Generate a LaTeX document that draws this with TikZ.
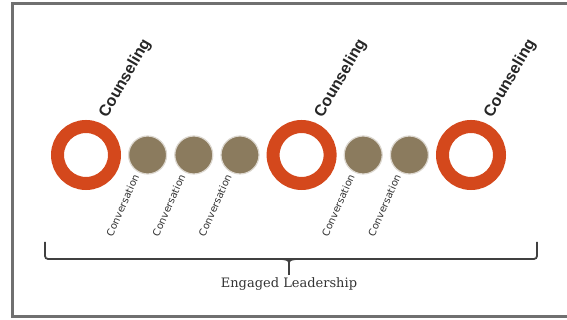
\documentclass[tikz,border=0pt]{standalone}
\usepackage{fontspec}
\newfontfamily\headfont{Liberation Sans}
\newfontfamily\smallfont{DejaVu Sans}
\newfontfamily\capfont{DejaVu Serif}
\usetikzlibrary{positioning}
\definecolor{rust}{RGB}{212,72,28}
\definecolor{bronze}{RGB}{139,123,94}
\definecolor{rule}{RGB}{112,112,112}
\tikzstyle{ring}=[circle,draw=rust,line width=13pt,minimum size=57pt,inner sep=0pt]
\tikzstyle{coin}=[circle,fill=bronze,draw=bronze!30,line width=1.2pt,minimum size=38pt,inner sep=0pt]
\tikzstyle{counsel}=[font=\headfont\bfseries\fontsize{16}{16}\selectfont,text=black!85,rotate=60,anchor=base west,inner sep=0pt]
\tikzstyle{convo}=[font=\smallfont\fontsize{10}{10}\selectfont,text=black!80,rotate=66,anchor=east,inner sep=0pt]
\tikzstyle{brace}=[draw=black!75,line width=1.8pt,rounded corners=3pt]

\begin{document}
\begin{tikzpicture}[x=1pt,y=1pt,node distance=7pt]
\clip (0,0) rectangle (567,320);
% frame, open on the right
\draw[rule,line width=2.5pt] (12.5,3.5) rectangle (590,316.5);

% rings and coins in one row
\node[ring] (r1) at (86,165) {};
\node[coin,right=of r1] (c1) {};
\node[coin,right=of c1] (c2) {};
\node[coin,right=of c2] (c3) {};
\node[ring,right=of c3] (r2) {};
\node[coin,right=of r2] (c4) {};
\node[coin,right=of c4] (c5) {};
\node[ring,right=of c5] (r3) {};

% labels
\path (r1.center) ++(60:42pt) node[counsel] (t1) {Counseling};
\path (r2.center) ++(60:42pt) node[counsel] (t2) {Counseling};
\path (r3.center) ++(60:42pt) node[counsel] (t3) {Counseling};
\path (c1.center) ++(240:23pt) node[convo] (v1) {Conversation};
\path (c2.center) ++(240:23pt) node[convo] (v2) {Conversation};
\path (c3.center) ++(240:23pt) node[convo] (v3) {Conversation};
\path (c4.center) ++(240:23pt) node[convo] (v4) {Conversation};
\path (c5.center) ++(240:23pt) node[convo] (v5) {Conversation};

% brace underneath
\coordinate (bl) at (45,78);
\coordinate (br) at (537,78);
\coordinate (fork) at (289,55);
\coordinate (tip) at (289,45);
\draw[brace] (bl) -- ++(0,-17) -| (br);
\draw[brace,rounded corners=0pt] (tip) -- (fork)
  .. controls (289,60) .. (282,61);
\draw[brace,rounded corners=0pt] (fork) .. controls (289,60) .. (296,61);
\node[font=\capfont\fontsize{13}{13}\selectfont,text=black!80] (lead) at (289,36) {Engaged Leadership};
\end{tikzpicture}
\end{document}
